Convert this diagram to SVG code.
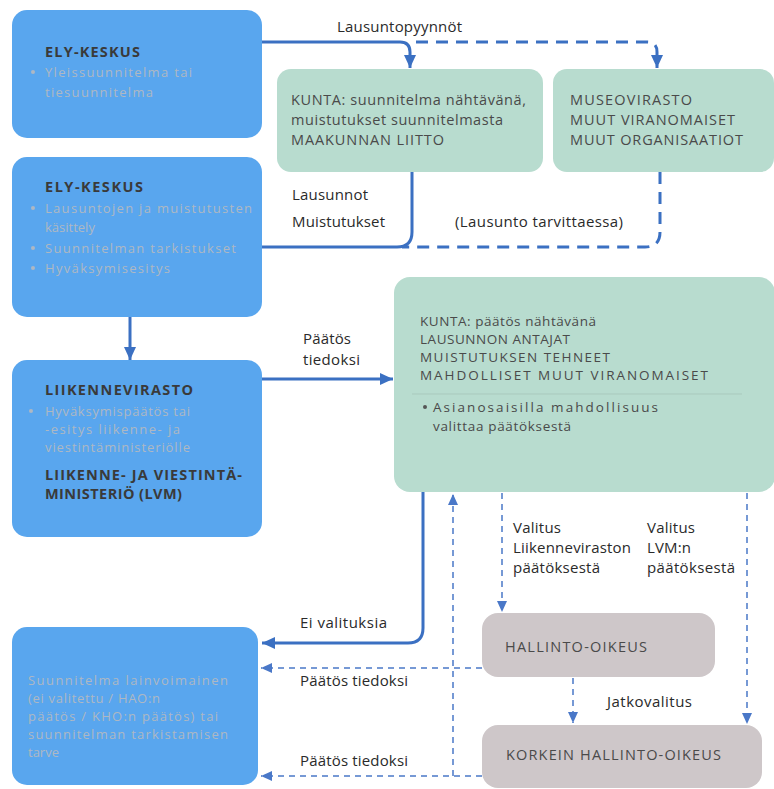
<svg xmlns="http://www.w3.org/2000/svg" width="774" height="789" viewBox="0 0 774 789">
<style>
text{font-family:"Open Sans","Liberation Sans",sans-serif;font-size:15px;fill:#333}
.lbl{font-size:15px;fill:#2a2a2a}
.h{font-weight:bold;fill:#3a3a3a;font-size:14.5px}
.g{fill:#aeb8c3;font-size:13px}
.bul{fill:#aeb8c3}
.blue{fill:#59a6ee}
.green{fill:#b8dccf}
.gray{fill:#cec7c9}
.gt{fill:#4a4a4a;font-size:14.5px}
.gs{fill:#4a4a4a;font-size:13.5px}
.solid{fill:none;stroke:#3b70c2;stroke-width:3}
.dash{fill:none;stroke:#3b70c2;stroke-width:3;stroke-dasharray:12 8}
.thin{fill:none;stroke:#4a78c8;stroke-width:1.5;stroke-dasharray:6 5}
</style>
<defs>
<marker id="ah" markerUnits="userSpaceOnUse" markerWidth="14" markerHeight="14" refX="13" refY="7" orient="auto"><path d="M0,1 L13,7 L0,13 z" fill="#3b70c2"/></marker>
<marker id="at" markerUnits="userSpaceOnUse" markerWidth="12" markerHeight="12" refX="11" refY="6" orient="auto"><path d="M0,1 L11,6 L0,11 z" fill="#4a78c8"/></marker>
</defs>
<rect width="774" height="789" fill="#fff"/>

<g id="ely1">
<rect class="blue" x="12" y="10" width="250" height="128" rx="15"/>
<text class="h" x="45" y="57" textLength="95">ELY-KESKUS</text>
<circle class="bul" cx="33" cy="72" r="2"/>
<text class="g" x="45" y="77" textLength="147">Yleissuunnitelma tai</text>
<text class="g" x="45" y="97" textLength="108">tiesuunnitelma</text>
</g>

<g id="ely2">
<rect class="blue" x="12" y="157" width="250" height="160" rx="15"/>
<text class="h" x="45" y="192" textLength="98">ELY-KESKUS</text>
<circle class="bul" cx="33" cy="208" r="2"/>
<text class="g" x="45" y="213" textLength="207">Lausuntojen ja muistutusten</text>
<text class="g" x="45" y="232">käsittely</text>
<circle class="bul" cx="33" cy="248" r="2"/>
<text class="g" x="45" y="253" textLength="191">Suunnitelman tarkistukset</text>
<circle class="bul" cx="33" cy="268" r="2"/>
<text class="g" x="45" y="273" textLength="125">Hyväksymisesitys</text>
</g>

<g id="liikennevirasto">
<rect class="blue" x="12" y="360" width="250" height="177" rx="15"/>
<text class="h" x="45" y="395" textLength="148">LIIKENNEVIRASTO</text>
<circle class="bul" cx="31" cy="411" r="2"/>
<text class="g" x="45" y="416" textLength="145">Hyväksymispäätös tai</text>
<text class="g" x="45" y="434" textLength="135">-esitys liikenne- ja</text>
<text class="g" x="45" y="452" textLength="145">viestintäministeriölle</text>
<text class="h" x="45" y="480" textLength="197">LIIKENNE- JA VIESTINTÄ-</text>
<text class="h" x="45" y="499" textLength="137">MINISTERIÖ (LVM)</text>
</g>

<g id="lopputulos">
<rect class="blue" x="12" y="627" width="246" height="158" rx="15"/>
<text class="g" x="28" y="685" textLength="200">Suunnitelma lainvoimainen</text>
<text class="g" x="28" y="703" textLength="132">(ei valitettu / HAO:n</text>
<text class="g" x="28" y="721" textLength="190">päätös / KHO:n päätös) tai</text>
<text class="g" x="28" y="739" textLength="200">suunnitelman tarkistamisen</text>
<text class="g" x="28" y="757">tarve</text>
</g>

<g id="kunta1">
<rect class="green" x="277" y="69" width="266" height="103" rx="14"/>
<text class="gt" x="291" y="105" textLength="235">KUNTA: suunnitelma nähtävänä,</text>
<text class="gt" x="291" y="125" textLength="212">muistutukset suunnitelmasta</text>
<text class="gt" x="291" y="145" textLength="153">MAAKUNNAN LIITTO</text>
</g>

<g id="museo">
<rect class="green" x="553" y="69" width="221" height="103" rx="14"/>
<text class="gt" x="570" y="105" textLength="122">MUSEOVIRASTO</text>
<text class="gt" x="570" y="125" textLength="165">MUUT VIRANOMAISET</text>
<text class="gt" x="570" y="145" textLength="173">MUUT ORGANISAATIOT</text>
</g>

<g id="kunta2">
<rect class="green" x="394" y="277" width="381" height="215" rx="16"/>
<text class="gs" x="420" y="326" textLength="176">KUNTA: päätös nähtävänä</text>
<text class="gs" x="420" y="344" textLength="150">LAUSUNNON ANTAJAT</text>
<text class="gs" x="420" y="362" textLength="190">MUISTUTUKSEN TEHNEET</text>
<text class="gs" x="420" y="380" textLength="288">MAHDOLLISET MUUT VIRANOMAISET</text>
<line x1="412" y1="394" x2="742" y2="394" stroke="#a9c9bd" stroke-width="1"/>
<circle cx="425" cy="407" r="2" fill="#555"/>
<text class="gs" x="433" y="412" textLength="225">Asianosaisilla mahdollisuus</text>
<text class="gs" x="433" y="431" textLength="138">valittaa päätöksestä</text>
</g>

<g id="hao">
<rect class="gray" x="482" y="613" width="233" height="64" rx="16"/>
<text class="gt" x="505" y="652" textLength="142">HALLINTO-OIKEUS</text>
</g>

<g id="kho">
<rect class="gray" x="482" y="725" width="280" height="63" rx="16"/>
<text class="gt" x="506" y="760" textLength="215">KORKEIN HALLINTO-OIKEUS</text>
</g>

<g id="connectors">
<path class="solid" d="M262,42 H400 Q410,42 410,52 V68" marker-end="url(#ah)"/>
<path class="dash" d="M416,42 H647 Q657,42 657,52 V68" marker-end="url(#ah)"/>
<path class="solid" d="M412,172 V232 Q412,247 397,247 H262"/>
<path class="dash" d="M660,172 V232 Q660,247 645,247 H402"/>
<path class="solid" d="M130,317 V360" marker-end="url(#ah)"/>
<path class="solid" d="M262,379 H393" marker-end="url(#ah)"/>
<path class="solid" d="M423,492 V628 Q423,643 408,643 H262" marker-end="url(#ah)"/>
<path class="thin" d="M453,776 V494" marker-end="url(#at)"/>
<path class="thin" d="M482,668 H261" marker-end="url(#at)"/>
<path class="thin" d="M482,776 H261" marker-end="url(#at)"/>
<path class="thin" d="M502,493 V612" marker-end="url(#at)"/>
<path class="thin" d="M747,493 V724" marker-end="url(#at)"/>
<path class="thin" d="M573,678 V723" marker-end="url(#at)"/>
</g>

<g id="labels">
<text class="lbl" x="337" y="32" textLength="125">Lausuntopyynnöt</text>
<text class="lbl" x="292" y="200" textLength="76">Lausunnot</text>
<text class="lbl" x="292" y="227" textLength="93">Muistutukset</text>
<text class="lbl" x="455" y="227" textLength="168">(Lausunto tarvittaessa)</text>
<text class="lbl" x="303" y="344" textLength="48">Päätös</text>
<text class="lbl" x="303" y="365" textLength="57">tiedoksi</text>
<text class="lbl" x="300" y="628" textLength="87">Ei valituksia</text>
<text class="lbl" x="300" y="686" textLength="108">Päätös tiedoksi</text>
<text class="lbl" x="300" y="766" textLength="108">Päätös tiedoksi</text>
<text class="lbl" x="513" y="533" textLength="48">Valitus</text>
<text class="lbl" x="513" y="553" textLength="118">Liikenneviraston</text>
<text class="lbl" x="513" y="573" textLength="87">päätöksestä</text>
<text class="lbl" x="647" y="533" textLength="48">Valitus</text>
<text class="lbl" x="647" y="553" textLength="44">LVM:n</text>
<text class="lbl" x="647" y="573" textLength="88">päätöksestä</text>
<text class="lbl" x="607" y="707" textLength="85">Jatkovalitus</text>
</g>
</svg>
